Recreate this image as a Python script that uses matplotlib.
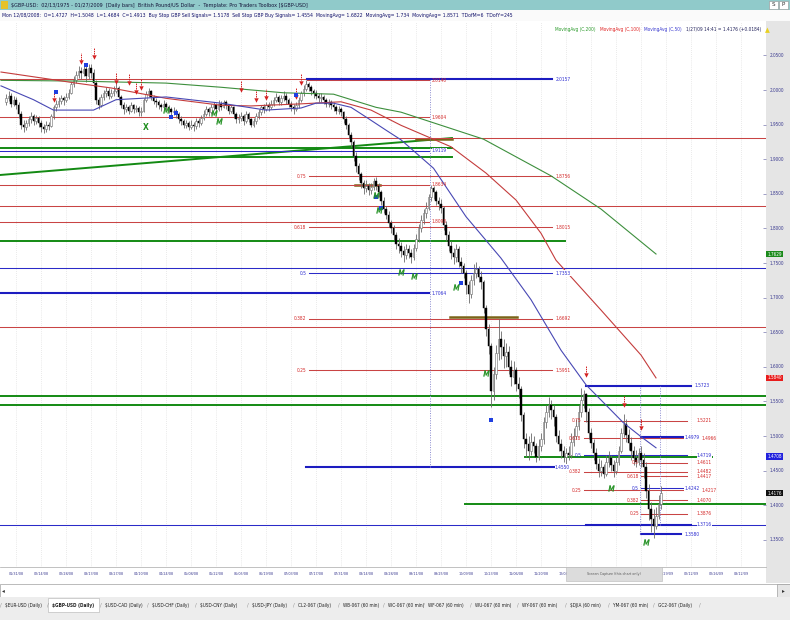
import matplotlib
matplotlib.use('Agg')
import matplotlib.pyplot as plt
from matplotlib.patches import Rectangle

# screen font of the trading platform is very narrow -> condensed DejaVu
plt.rcParams['font.family'] = 'DejaVu Sans'
plt.rcParams['font.stretch'] = 'condensed'

# ---------------- data (bar index 6 = 01/31/08, one bar per trading day) ----------------
FIRST = 2
END = 306
open_first = 1.982
closes = [
    1.988, 1.992, 1.980, 1.986,
    1.978, 1.965, 1.950, 1.946, 1.952, 1.958, 1.962, 1.955, 1.960, 1.952,
    1.946, 1.944, 1.950, 1.948, 1.962, 1.975, 1.980, 1.984, 1.988, 1.985,
    1.990, 1.996, 2.008, 2.015, 2.022, 2.028, 2.024, 2.030, 2.020, 2.032,
    2.025, 2.010, 1.985, 1.978, 1.990, 1.995, 1.998, 1.992, 1.996, 1.999,
    2.003, 1.990, 1.978, 1.972, 1.975, 1.970, 1.978, 1.972, 1.974, 1.968,
    1.970, 1.985, 1.994, 1.998, 1.990, 1.984, 1.982, 1.978, 1.975, 1.980,
    1.976, 1.972, 1.968, 1.970, 1.965, 1.958, 1.955, 1.950, 1.952, 1.947,
    1.950, 1.948, 1.955, 1.952, 1.960, 1.966, 1.972, 1.968, 1.975, 1.978,
    1.972, 1.980, 1.976, 1.982, 1.978, 1.970, 1.975, 1.965, 1.958, 1.960,
    1.962, 1.955, 1.965, 1.958, 1.950, 1.955, 1.962, 1.968, 1.975, 1.972,
    1.978, 1.975, 1.980, 1.985, 1.990, 1.982, 1.988, 1.992, 1.985, 1.980,
    1.975, 1.972, 1.978, 1.985, 1.995, 2.002, 2.008, 2.005, 1.998, 1.995,
    1.992, 1.988, 1.990, 1.985, 1.980, 1.982, 1.978, 1.975, 1.970, 1.972,
    1.968, 1.958, 1.950, 1.935, 1.925, 1.905, 1.890, 1.878, 1.865, 1.858,
    1.862, 1.855, 1.860, 1.868, 1.862, 1.852, 1.840, 1.828, 1.820, 1.808,
    1.800, 1.790, 1.778, 1.775, 1.768, 1.762, 1.770, 1.765, 1.758, 1.772,
    1.785, 1.800, 1.812, 1.822, 1.830, 1.845, 1.858, 1.852, 1.840, 1.835,
    1.830, 1.805, 1.790, 1.775, 1.765, 1.758, 1.770, 1.752, 1.745, 1.735,
    1.718, 1.705, 1.725, 1.735, 1.742, 1.730, 1.722, 1.685, 1.655, 1.630,
    1.565, 1.590, 1.620, 1.640, 1.628, 1.615, 1.622, 1.600, 1.585, 1.595,
    1.575, 1.568, 1.530, 1.495, 1.488, 1.478, 1.492, 1.485, 1.470, 1.485,
    1.495, 1.520, 1.535, 1.545, 1.538, 1.528, 1.500, 1.488, 1.478, 1.470,
    1.475, 1.4727, 1.4913, 1.500, 1.515, 1.535, 1.552, 1.560, 1.535, 1.505,
    1.490, 1.475, 1.460, 1.450, 1.455, 1.445, 1.462, 1.468, 1.458, 1.450,
    1.462, 1.478, 1.505, 1.518, 1.502, 1.490, 1.478, 1.468, 1.462, 1.475,
    1.465, 1.455, 1.420, 1.395, 1.380, 1.370, 1.385, 1.402, 1.4176,
]
highs = [
    1.994, 1.998, 1.995, 1.992,
    1.990, 1.982, 1.970, 1.956, 1.957, 1.963, 1.968, 1.966, 1.964, 1.963,
    1.956, 1.951, 1.955, 1.954, 1.966, 1.979, 1.986, 1.990, 1.993, 1.992,
    1.995, 2.001, 2.012, 2.020, 2.027, 2.035, 2.033, 2.039, 2.034, 2.037,
    2.038, 2.030, 2.014, 1.990, 1.994, 2.000, 2.004, 2.003, 2.001, 2.006,
    2.010, 2.006, 1.993, 1.982, 1.980, 1.978, 1.983, 1.980, 1.979, 1.977,
    1.976, 1.989, 1.998, 2.003, 2.000, 1.993, 1.988, 1.986, 1.981, 1.985,
    1.983, 1.979, 1.975, 1.975, 1.973, 1.968, 1.962, 1.958, 1.957, 1.955,
    1.956, 1.954, 1.960, 1.959, 1.964, 1.971, 1.977, 1.975, 1.980, 1.983,
    1.981, 1.985, 1.984, 1.986, 1.985, 1.980, 1.979, 1.977, 1.968, 1.965,
    1.968, 1.966, 1.970, 1.968, 1.960, 1.960, 1.967, 1.972, 1.979, 1.980,
    1.983, 1.982, 1.985, 1.990, 1.996, 1.993, 1.993, 1.998, 1.995, 1.988,
    1.984, 1.980, 1.983, 1.990, 1.999, 2.007, 2.014, 2.012, 2.007, 2.002,
    2.000, 1.996, 1.995, 1.993, 1.988, 1.987, 1.986, 1.982, 1.979, 1.977,
    1.976, 1.970, 1.962, 1.953, 1.940, 1.928, 1.910, 1.895, 1.882, 1.870,
    1.870, 1.866, 1.865, 1.873, 1.875, 1.866, 1.856, 1.845, 1.832, 1.825,
    1.812, 1.805, 1.795, 1.786, 1.780, 1.774, 1.778, 1.776, 1.770, 1.778,
    1.792, 1.806, 1.820, 1.828, 1.838, 1.850, 1.863, 1.861, 1.856, 1.846,
    1.842, 1.833, 1.810, 1.796, 1.782, 1.772, 1.778, 1.775, 1.758, 1.750,
    1.740, 1.724, 1.732, 1.748, 1.752, 1.746, 1.738, 1.725, 1.690, 1.662,
    1.635, 1.600, 1.632, 1.669, 1.652, 1.640, 1.635, 1.630, 1.610, 1.608,
    1.600, 1.585, 1.572, 1.535, 1.505, 1.500, 1.505, 1.500, 1.490, 1.495,
    1.505, 1.528, 1.545, 1.556, 1.552, 1.545, 1.532, 1.508, 1.495, 1.485,
    1.482, 1.485, 1.5048, 1.512, 1.525, 1.545, 1.5697, 1.566, 1.562, 1.540,
    1.512, 1.495, 1.482, 1.468, 1.465, 1.460, 1.472, 1.478, 1.472, 1.465,
    1.470, 1.485, 1.512, 1.532, 1.525, 1.510, 1.498, 1.485, 1.480, 1.482,
    1.485, 1.475, 1.462, 1.430, 1.405, 1.395, 1.398, 1.415, 1.428,
]
lows = [
    1.978, 1.984, 1.975, 1.977,
    1.973, 1.960, 1.944, 1.940, 1.942, 1.948, 1.953, 1.950, 1.951, 1.947,
    1.940, 1.938, 1.940, 1.942, 1.946, 1.958, 1.970, 1.975, 1.980, 1.978,
    1.982, 1.987, 1.994, 2.004, 2.010, 2.017, 2.016, 2.020, 2.012, 2.016,
    2.018, 2.004, 1.980, 1.972, 1.975, 1.986, 1.990, 1.987, 1.988, 1.991,
    1.995, 1.986, 1.974, 1.966, 1.968, 1.965, 1.968, 1.967, 1.968, 1.963,
    1.962, 1.968, 1.982, 1.990, 1.986, 1.980, 1.976, 1.973, 1.970, 1.972,
    1.971, 1.967, 1.963, 1.964, 1.960, 1.953, 1.950, 1.945, 1.945, 1.942,
    1.943, 1.941, 1.944, 1.947, 1.950, 1.956, 1.962, 1.963, 1.966, 1.971,
    1.967, 1.970, 1.971, 1.974, 1.972, 1.966, 1.967, 1.960, 1.953, 1.953,
    1.955, 1.950, 1.952, 1.954, 1.946, 1.947, 1.951, 1.958, 1.964, 1.967,
    1.969, 1.970, 1.972, 1.977, 1.982, 1.978, 1.979, 1.984, 1.980, 1.975,
    1.970, 1.966, 1.969, 1.974, 1.982, 1.991, 1.998, 1.999, 1.993, 1.989,
    1.987, 1.983, 1.982, 1.980, 1.975, 1.976, 1.973, 1.970, 1.965, 1.966,
    1.962, 1.953, 1.944, 1.930, 1.918, 1.898, 1.882, 1.870, 1.858, 1.850,
    1.852, 1.848, 1.850, 1.856, 1.856, 1.846, 1.834, 1.822, 1.814, 1.802,
    1.794, 1.783, 1.770, 1.765, 1.758, 1.752, 1.756, 1.757, 1.750, 1.754,
    1.768, 1.780, 1.795, 1.806, 1.815, 1.826, 1.840, 1.842, 1.834, 1.826,
    1.822, 1.798, 1.782, 1.768, 1.756, 1.748, 1.752, 1.744, 1.736, 1.728,
    1.705, 1.692, 1.700, 1.718, 1.728, 1.722, 1.712, 1.678, 1.645, 1.618,
    1.542, 1.552, 1.582, 1.610, 1.612, 1.598, 1.600, 1.590, 1.572, 1.575,
    1.565, 1.555, 1.522, 1.482, 1.470, 1.465, 1.472, 1.475, 1.462, 1.465,
    1.478, 1.488, 1.512, 1.528, 1.525, 1.515, 1.492, 1.478, 1.468, 1.462,
    1.460, 1.465, 1.4684, 1.486, 1.495, 1.508, 1.528, 1.540, 1.520, 1.495,
    1.482, 1.465, 1.452, 1.441, 1.442, 1.440, 1.442, 1.455, 1.450, 1.441,
    1.445, 1.458, 1.475, 1.498, 1.492, 1.480, 1.465, 1.458, 1.455, 1.458,
    1.455, 1.440, 1.410, 1.378, 1.362, 1.352, 1.365, 1.380, 1.395,
]

# moving averages (bar index, value)
ma200_idx = [0, 29, 66, 88, 113, 133, 150, 160, 193, 220, 240, 262]
ma200_val = [2.014, 2.013, 2.010, 2.004, 1.996, 1.994, 1.975, 1.968, 1.929, 1.876, 1.828, 1.763]
ma100_idx = [0, 17, 30, 44, 66, 88, 100, 120, 136, 148, 160, 180, 194, 206, 216, 222, 240, 256, 262]
ma100_val = [2.026, 2.017, 2.010, 2.003, 1.988, 1.978, 1.977, 1.980, 1.983, 1.971, 1.949, 1.918,
             1.880, 1.841, 1.793, 1.754, 1.682, 1.617, 1.584]
ma50_idx = [0, 13, 21, 37, 46, 66, 88, 106, 120, 126, 133, 140, 146, 154, 160, 173, 186, 200,
            212, 224, 234, 249, 256, 262]
ma50_val = [2.006, 1.986, 1.971, 1.971, 1.986, 1.990, 1.981, 1.971, 1.974, 1.981, 1.981, 1.975,
            1.961, 1.942, 1.928, 1.887, 1.817, 1.757, 1.697, 1.624, 1.574, 1.519, 1.499, 1.483]

# horizontal levels
red_lv = [2.0155, 2.0140, 1.9604, 1.9306, 1.8756, 1.8634, 1.8324, 1.8098, 1.8015, 1.6692,
          1.6575, 1.5951, 1.5221, 1.4966, 1.4611, 1.4482, 1.4417, 1.4217, 1.4070, 1.3876]
red_x0 = [-0.4, 122.4, -0.4, -0.4, 123, -0.4, -0.4, -0.4, 123, 123,
          -0.4, 123, 233, 233, 256, 233, 256, 233, 256, 256]
red_x1 = [122.4, 171, 171, END, 220.4, 171, END, 171, 220.4, 220.4,
          END, 220.4, 274.4, 274.4, 274.4, 274.4, 274.4, 274.4, 274.4, 274.4]
red_fib = ['', '', '', '', '0.75', '', '', '', '0.618', '0.382',
           '', '0.25', '0.75', '0.618', '0.5', '0.382', '0.618', '0.25', '0.382', '0.25']
red_tag = [None, 172.4, 172.4, None, 222, 172.4, None, 172.4, 222, 222,
           None, 222, 278.4, 280.2, 278.4, 278.4, 278.4, 280.2, 278.4, 278.4]

blue_lv = [1.9119, 1.7430, 1.7353, 1.4719, 1.4242, 1.3716]
blue_x0 = [-0.4, -0.4, 123, 233, 256, -0.4]
blue_x1 = [171, END, 220.4, 274.4, 274.4, END]
blue_fib = ['', '', '0.5', '0.5', '0.5', '']
blue_tag = [172.4, None, 222, 278.4, 273.5, None]

bluek_lv = [2.0157, 1.7064, 1.5723, 1.4979, 1.4550, 1.3716, 1.3580]
bluek_x0 = [122.4, -0.4, 234, 256, 122, 234, 256]
bluek_x1 = [220.4, 171, 276, 276, 224, 276, 272]
bluek_tag = [222, 172.4, 277.6, 273.5, 221.6, 278.4, 273.6]

green_lv = [1.9162, 1.9030, 1.7818, 1.5578, 1.5448, 1.4697, 1.4017]
green_x0 = [-0.4, -0.4, -0.4, -0.4, -0.4, 209.6, 185.6]
green_x1 = [180.4, 180.4, 225.6, END, END, 284.4, END]
trend_idx = [-0.4, 180.4]
trend_val = [1.8772, 1.9306]

olive_lv = [1.8627, 1.6720, 1.9292]
olive_x0 = [141.6, 179.6, 166]
olive_x1 = [151.6, 206.4, 180.4]

vdot_idx = [171.6, 255.6, 263.6]
vdot_lo = [1.455, 1.358, 1.3716]
vdot_hi = [2.0157, 1.5723, 1.5723]

# signals
sell_idx = [21, 32, 37, 46, 51, 54, 56, 96, 102, 106, 118, 120, 234, 249, 256]
sell_val = [1.986, 2.040, 2.048, 2.012, 2.010, 1.997, 2.003, 2.000, 1.986, 1.988, 1.990, 2.010,
            1.588, 1.545, 1.512]
flag_idx = [22, 34, 68, 70, 118, 150, 152, 184, 196]
flag_val = [1.997, 2.036, 1.961, 1.967, 1.993, 1.845, 1.830, 1.721, 1.523]
buy_idx = [66, 85, 87, 150, 151, 160, 165, 182, 194, 244, 258]
buy_val = [1.971, 1.967, 1.955, 1.848, 1.827, 1.737, 1.731, 1.715, 1.591, 1.425, 1.347]
x_sig_idx = [58]
x_sig_val = [1.946]

# axis labels
date_idx = list(range(6, 297, 10))
date_lbl = ['01/31/08', '02/14/08', '02/28/08', '03/13/08', '03/27/08', '04/10/08', '04/24/08',
            '05/08/08', '05/22/08', '06/05/08', '06/19/08', '07/03/08', '07/17/08', '07/31/08',
            '08/14/08', '08/28/08', '09/11/08', '09/25/08', '10/09/08', '10/23/08', '11/06/08',
            '11/20/08', '12/04/08', '12/18/08', '01/01/09', '01/15/09', '01/29/09', '02/12/09',
            '02/26/09', '03/12/09']
price_ticks = [1.35, 1.40, 1.45, 1.50, 1.55, 1.60, 1.65, 1.70, 1.75, 1.80, 1.85, 1.90, 1.95,
               2.00, 2.05]
badge_val = [1.7629, 1.5840, 1.4708, 1.4176]
badge_col = ['#1b8a1b', '#e81c1c', '#2222dd', '#111111']

title_txt = ('$GBP-USD:  02/13/1975 - 01/27/2009  [Daily bars]  British Pound/US Dollar  -  '
             'Template: Pro Traders Toolbox [$GBP-USD]')
info_txt = ('Mon 12/08/2008:  O=1.4727  H=1.5048  L=1.4684  C=1.4913  Buy Stop GBP Sell Signals= 1.5178  '
            'Sell Stop GBP Buy Signals= 1.4554  MovingAvg= 1.6822  MovingAvg= 1.734  MovingAvg= 1.8571  '
            'TDofM=6  TDofY=245')
legend_txt = ['MovingAvg (C,200)', 'MovingAvg (C,100)', 'MovingAvg (C,50)', '1/27/09 14:41 = 1.4176 (+0.0184)']
legend_col = ['#2a9a2a', '#e02424', '#3a3ad0', '#20205a']

tabs = ['$EUR-USD (Daily)', '$GBP-USD (Daily)', '$USD-CAD (Daily)', '$USD-CHF (Daily)',
        '$USD-CNY (Daily)', '$USD-JPY (Daily)', 'CL2-067 (Daily)', 'WB-067 (60 min)',
        'WC-067 (60 min)', 'WF-067 (60 min)', 'WU-067 (60 min)', 'WY-067 (60 min)',
        '$DJIA (60 min)', 'YM-067 (60 min)', 'GC2-067 (Daily)']
tab_x = [5, 52, 105, 152, 200, 252, 298, 343, 388, 428, 475, 522, 570, 613, 658]

# ---------------- figure ----------------
W, H = 790.0, 620.0
fig = plt.figure(figsize=(7.9, 6.2), dpi=100)
fig.patch.set_facecolor('white')
renderer = fig.canvas.get_renderer()


def fx(x):
    return x / W


def fy(y):
    return 1.0 - y / H


def frect(x0, y0, x1, y1, fc, ec='none', lw=0.0, z=-1):
    fig.add_artist(Rectangle((fx(x0), fy(y1)), (x1 - x0) / W, (y1 - y0) / H,
                             transform=fig.transFigure, facecolor=fc, edgecolor=ec,
                             linewidth=lw, zorder=z))


def esc(s):
    return s.replace('$', r'\$')


def size_for(sample, width_px, weight='normal'):
    # font size that gives the sample string the width seen in the screenshot
    t = fig.text(0, 0, esc(sample), fontsize=10, fontweight=weight)
    w = t.get_window_extent(renderer=renderer).width
    t.remove()
    return 10.0 * width_px / w


FS_LVL = size_for('1.8756', 15.5)
FS_AX = size_for('2.0500', 14.5)
FS_DATE = size_for('01/31/08', 15)
FS_TITLE = size_for(title_txt, 300)
FS_INFO = size_for(info_txt, 510)
FS_LEG = size_for('MovingAvg (C,200)', 41)
FS_TAB = size_for('$USD-CAD (Daily)', 38)

YLO, YHI = 1.3107, 2.0983

# main price panel
ax = fig.add_axes([0, fy(567), fx(766), 545 / H])
ax.set_xlim(-0.4, END)
ax.set_ylim(YLO, YHI)
for s in ['top', 'left', 'right']:
    ax.spines[s].set_visible(False)
ax.spines['bottom'].set_color('#a8a8a8')
ax.spines['bottom'].set_linewidth(0.5)
ax.set_yticks([])
# labels 12/18/08 .. 01/15/09 sit under the screen-capture tooltip in the screenshot
shown_lbl = [l if not (228 <= i <= 258) else '' for i, l in zip(date_idx, date_lbl)]
ax.set_xticks(date_idx)
ax.set_xticklabels(shown_lbl, fontsize=FS_DATE, color='#39398f')
ax.tick_params(axis='x', length=0, pad=3.5)

# light dotted grid
ax.vlines(date_idx, YLO, YHI, colors='#d6d6d6', linewidth=0.5, linestyles=(0, (1, 2)), zorder=1)

# levels
for lv, a, b in zip(green_lv, green_x0, green_x1):
    ax.plot([a, b], [lv, lv], color='#138a13', lw=1.4, zorder=2)
ax.plot(trend_idx, trend_val, color='#138a13', lw=1.4, zorder=2)
for lv, a, b in zip(olive_lv, olive_x0, olive_x1):
    ax.plot([a, b], [lv, lv], color='#7a6418', lw=1.8, zorder=2)
for lv, a, b, f, t in zip(red_lv, red_x0, red_x1, red_fib, red_tag):
    ax.plot([a, b], [lv, lv], color='#c94444', lw=0.75, zorder=2)
    if f:
        ax.text(a - 0.8, lv, f, fontsize=FS_LVL, color='#d42a2a', ha='right', va='center', zorder=6)
    if t is not None:
        ax.text(t, lv, f'{lv:.4f}', fontsize=FS_LVL, color='#d42a2a', ha='left', va='center', zorder=6)
for lv, a, b, f, t in zip(blue_lv, blue_x0, blue_x1, blue_fib, blue_tag):
    ax.plot([a, b], [lv, lv], color='#2b2bc8', lw=0.75, zorder=2)
    if f:
        ax.text(a - 0.8, lv, f, fontsize=FS_LVL, color='#2b2bd0', ha='right', va='center', zorder=6)
    if t is not None:
        ax.text(t, lv, f'{lv:.4f}', fontsize=FS_LVL, color='#2b2bd0', ha='left', va='center', zorder=7,
                bbox=dict(facecolor='white', edgecolor='none', pad=0.2))
for lv, a, b, t in zip(bluek_lv, bluek_x0, bluek_x1, bluek_tag):
    ax.plot([a, b], [lv, lv], color='#1c1cc0', lw=1.5, zorder=2)
    ax.text(t, lv, f'{lv:.4f}', fontsize=FS_LVL, color='#2b2bd0', ha='left', va='center', zorder=7,
            bbox=dict(facecolor='white', edgecolor='none', pad=0.2))
ax.vlines(vdot_idx, vdot_lo, vdot_hi, colors='#8a8ad0', linewidth=0.7, linestyles=(0, (1, 1.5)), zorder=2)

# candles
idx = list(range(FIRST, FIRST + len(closes)))
opens = [open_first] + closes[:-1]
ax.vlines(idx, lows, highs, colors='#6a6a6a', linewidth=0.6, zorder=3)
up_i = [i for i, o, c in zip(idx, opens, closes) if c >= o]
up_b = [o for o, c in zip(opens, closes) if c >= o]
up_h = [max(c - o, 0.0008) for o, c in zip(opens, closes) if c >= o]
dn_i = [i for i, o, c in zip(idx, opens, closes) if c < o]
dn_b = [c for o, c in zip(opens, closes) if c < o]
dn_h = [max(o - c, 0.0008) for o, c in zip(opens, closes) if c < o]
ax.bar(up_i, up_h, bottom=up_b, width=0.75, facecolor='white', edgecolor='#6a6a6a', linewidth=0.4, zorder=4)
ax.bar(dn_i, dn_h, bottom=dn_b, width=0.75, facecolor='black', edgecolor='black', linewidth=0.3, zorder=4)

# moving averages
ax.plot(ma200_idx, ma200_val, color='#3d8f3d', lw=0.8, zorder=5)
ax.plot(ma100_idx, ma100_val, color='#c43c3c', lw=0.8, zorder=5)
ax.plot(ma50_idx, ma50_val, color='#4848b4', lw=0.8, zorder=5)

# signals
for i, v in zip(sell_idx, sell_val):
    ax.plot([i, i], [v + 0.004, v + 0.013], color='#d42020', lw=0.7, ls=(0, (1.5, 0.8)), zorder=6)
ax.plot(sell_idx, sell_val, 'v', color='#d42020', ms=3.2, mew=0, zorder=6)
ax.plot(flag_idx, flag_val, 's', color='#1f3fe0', ms=3.0, mew=0, zorder=6)
ax.plot(buy_idx, buy_val, ls='none', marker='$M$', color='#1f8f1f', ms=4.2, mew=0.3, zorder=6)
for i, v in zip(x_sig_idx, x_sig_val):
    ax.text(i, v, 'X', fontsize=6, color='#1f8f1f', ha='center', va='center', fontweight='bold', zorder=6)

# right price scale
frect(766, 21, 790, 583, '#e5e5e5')
axr = fig.add_axes([fx(766), fy(567), fx(24), 545 / H])
axr.set_facecolor('#e5e5e5')
axr.set_xlim(0, 1)
axr.set_ylim(YLO, YHI)
for s in axr.spines.values():
    s.set_visible(False)
axr.set_xticks([])
axr.set_yticks(price_ticks)
axr.tick_params(axis='y', direction='out', length=2.5, width=0.4, colors='#555599', labelleft=False)
for p in price_ticks:
    axr.text(0.17, p, f'{p:.4f}', fontsize=FS_AX, color='#39398f', ha='left', va='center')
for v, c in zip(badge_val, badge_col):
    axr.text(0.05, v, f'{v:.4f}', fontsize=FS_AX, color='white', ha='left', va='center',
             bbox=dict(facecolor=c, edgecolor='none', pad=0.6))

# header rows
frect(0, 0, 790, 10, '#90caca')
frect(0, 10, 790, 21, '#fafafa')
frect(1, 1, 8, 9, '#e7c22a')
fig.text(fx(11), fy(5), esc(title_txt), fontsize=FS_TITLE, color='#16163a', va='center')
fig.text(fx(2), fy(15.5), info_txt, fontsize=FS_INFO, color='#10106a', va='center')
frect(769, 1, 778, 9, 'white', ec='#909090', lw=0.4, z=2)
frect(779, 1, 788, 9, 'white', ec='#909090', lw=0.4, z=2)
fig.text(fx(773.5), fy(5), 'S', fontsize=4.5, ha='center', va='center', color='#333333')
fig.text(fx(783.5), fy(5), 'P', fontsize=4.5, ha='center', va='center', color='#333333')

# legend entries laid out one after another from x = 555
lx = 555.0
for t, c in zip(legend_txt, legend_col):
    tt = fig.text(fx(lx), fy(30), t, fontsize=FS_LEG, color=c, va='center')
    lx += tt.get_window_extent(renderer=renderer).width + 4
fig.text(fx(lx + 3), fy(30), '\u25b2', fontsize=5, color='#e8d020', va='center', ha='center')

# bottom chrome
frect(566, 567, 662, 581, '#dcdcdc', ec='#b8b8b8', lw=0.4, z=5)
fig.text(fx(614), fy(574), 'Screen Capture (this chart only)', fontsize=FS_DATE, color='#5a5a5a',
         ha='center', va='center', zorder=6)
frect(0, 584, 790, 597, 'white', ec='#a0a0a0', lw=0.5)
frect(777, 584, 790, 597, '#e6e6e6', ec='#a0a0a0', lw=0.5)
fig.text(fx(3), fy(590.5), '\u25c2', fontsize=4.5, color='#333333', va='center', ha='center')
fig.text(fx(783.5), fy(590.5), '\u25b8', fontsize=4.5, color='#333333', va='center', ha='center')
frect(0, 597, 790, 620, '#ededed')
frect(48, 598, 99, 612, 'white', ec='#b0b0b0', lw=0.4)
for k, (t, x) in enumerate(zip(tabs, tab_x)):
    fig.text(fx(x), fy(605), esc(t), fontsize=FS_TAB, color='#202020', va='center',
             fontweight='bold' if k == 1 else 'normal')
    fig.text(fx(x - 4), fy(605), '/', fontsize=FS_TAB * 1.2, color='#909090', va='center', ha='center')
fig.text(fx(700), fy(605), '/', fontsize=FS_TAB * 1.2, color='#909090', va='center', ha='center')

fig.savefig('out.png', dpi=100, facecolor=fig.get_facecolor())
